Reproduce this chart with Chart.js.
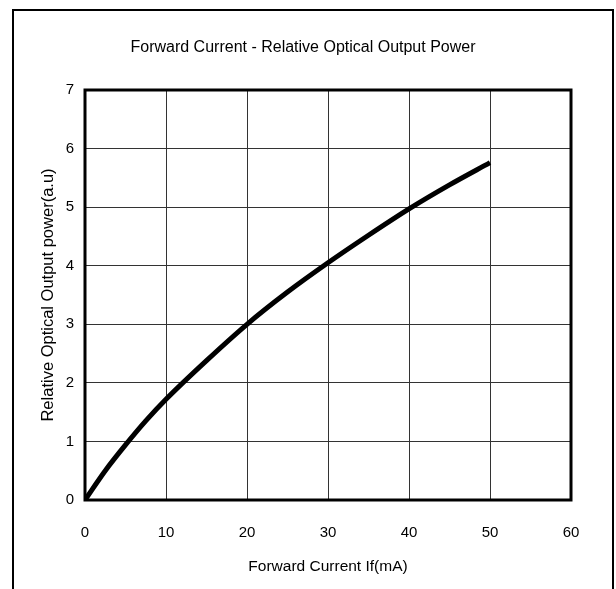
<!DOCTYPE html>
<html>
<head>
<meta charset="utf-8">
<script src="https://cdn.jsdelivr.net/npm/chart.js@4"></script>
<style>
html,body{margin:0;padding:0;background:#fff;}
#wrap{position:relative;width:616px;height:589px;overflow:hidden;}
#frame{position:absolute;left:12px;top:9px;width:598px;height:620px;border:2px solid #000;}
canvas{position:absolute;left:0;top:0;}
</style>
</head>
<body>
<div id="wrap">
<div id="frame"></div>
<canvas id="c" width="616" height="589"></canvas>
</div>
<script>
const chartTitle = "Forward Current - Relative Optical Output Power";
const xTitle = "Forward Current If(mA)";
const yTitle = "Relative Optical Output power(a.u)";
const currentMA = [0, 2.5, 5, 7.5, 10, 15, 20, 25, 30, 35, 40, 45, 50];
const relPower = [0, 0.5, 0.94, 1.35, 1.72, 2.38, 3.0, 3.55, 4.05, 4.52, 4.97, 5.38, 5.76];
const xTicks = [0, 10, 20, 30, 40, 50, 60];
const yTicks = [0, 1, 2, 3, 4, 5, 6, 7];

const FONT = "'Liberation Sans', Arial, sans-serif";

const frameBox = {
  id: 'frameBox',
  afterDatasetsDraw(chart) {
    const a = chart.chartArea, ctx = chart.ctx;
    ctx.save();
    ctx.strokeStyle = '#000';
    ctx.lineWidth = 3;
    ctx.strokeRect(a.left, a.top, a.right - a.left, a.bottom - a.top);
    ctx.restore();
  }
};

new Chart(document.getElementById('c'), {
  type: 'line',
  data: {
    datasets: [{
      data: currentMA.map((x, i) => ({x: x, y: relPower[i]})),
      borderColor: '#000',
      borderWidth: 5,
      pointRadius: 0,
      cubicInterpolationMode: 'monotone',
      fill: false
    }]
  },
  options: {
    responsive: false,
    animation: false,
    layout: {padding: {left: 35, right: 45, top: 0, bottom: 9}},
    plugins: {
      legend: {display: false},
      tooltip: {enabled: false},
      title: {
        display: true,
        text: chartTitle,
        color: '#000',
        font: {family: FONT, size: 16, weight: 'normal'},
        padding: {top: 38.4, bottom: 32.4}
      }
    },
    scales: {
      x: {
        type: 'linear',
        min: 0, max: 60,
        afterBuildTicks: s => { s.ticks = xTicks.map(v => ({value: v})); },
        afterFit: s => { s.height = 80; },
        grid: {color: '#333', lineWidth: 1, drawTicks: false},
        border: {display: false},
        ticks: {color: '#000', font: {family: FONT, size: 15}, padding: 24, maxRotation: 0},
        title: {display: true, text: xTitle, color: '#000', font: {family: FONT, size: 15.5}}
      },
      y: {
        type: 'linear',
        min: 0, max: 7,
        afterBuildTicks: s => { s.ticks = yTicks.map(v => ({value: v})); },
        afterFit: s => { s.width = 50; },
        grid: {color: '#333', lineWidth: 1, drawTicks: false},
        border: {display: false},
        ticks: {color: '#000', font: {family: FONT, size: 15}, padding: 11},
        title: {display: true, text: yTitle, color: '#000', font: {family: FONT, size: 16.5}}
      }
    }
  },
  plugins: [frameBox]
});
</script>
</body>
</html>
